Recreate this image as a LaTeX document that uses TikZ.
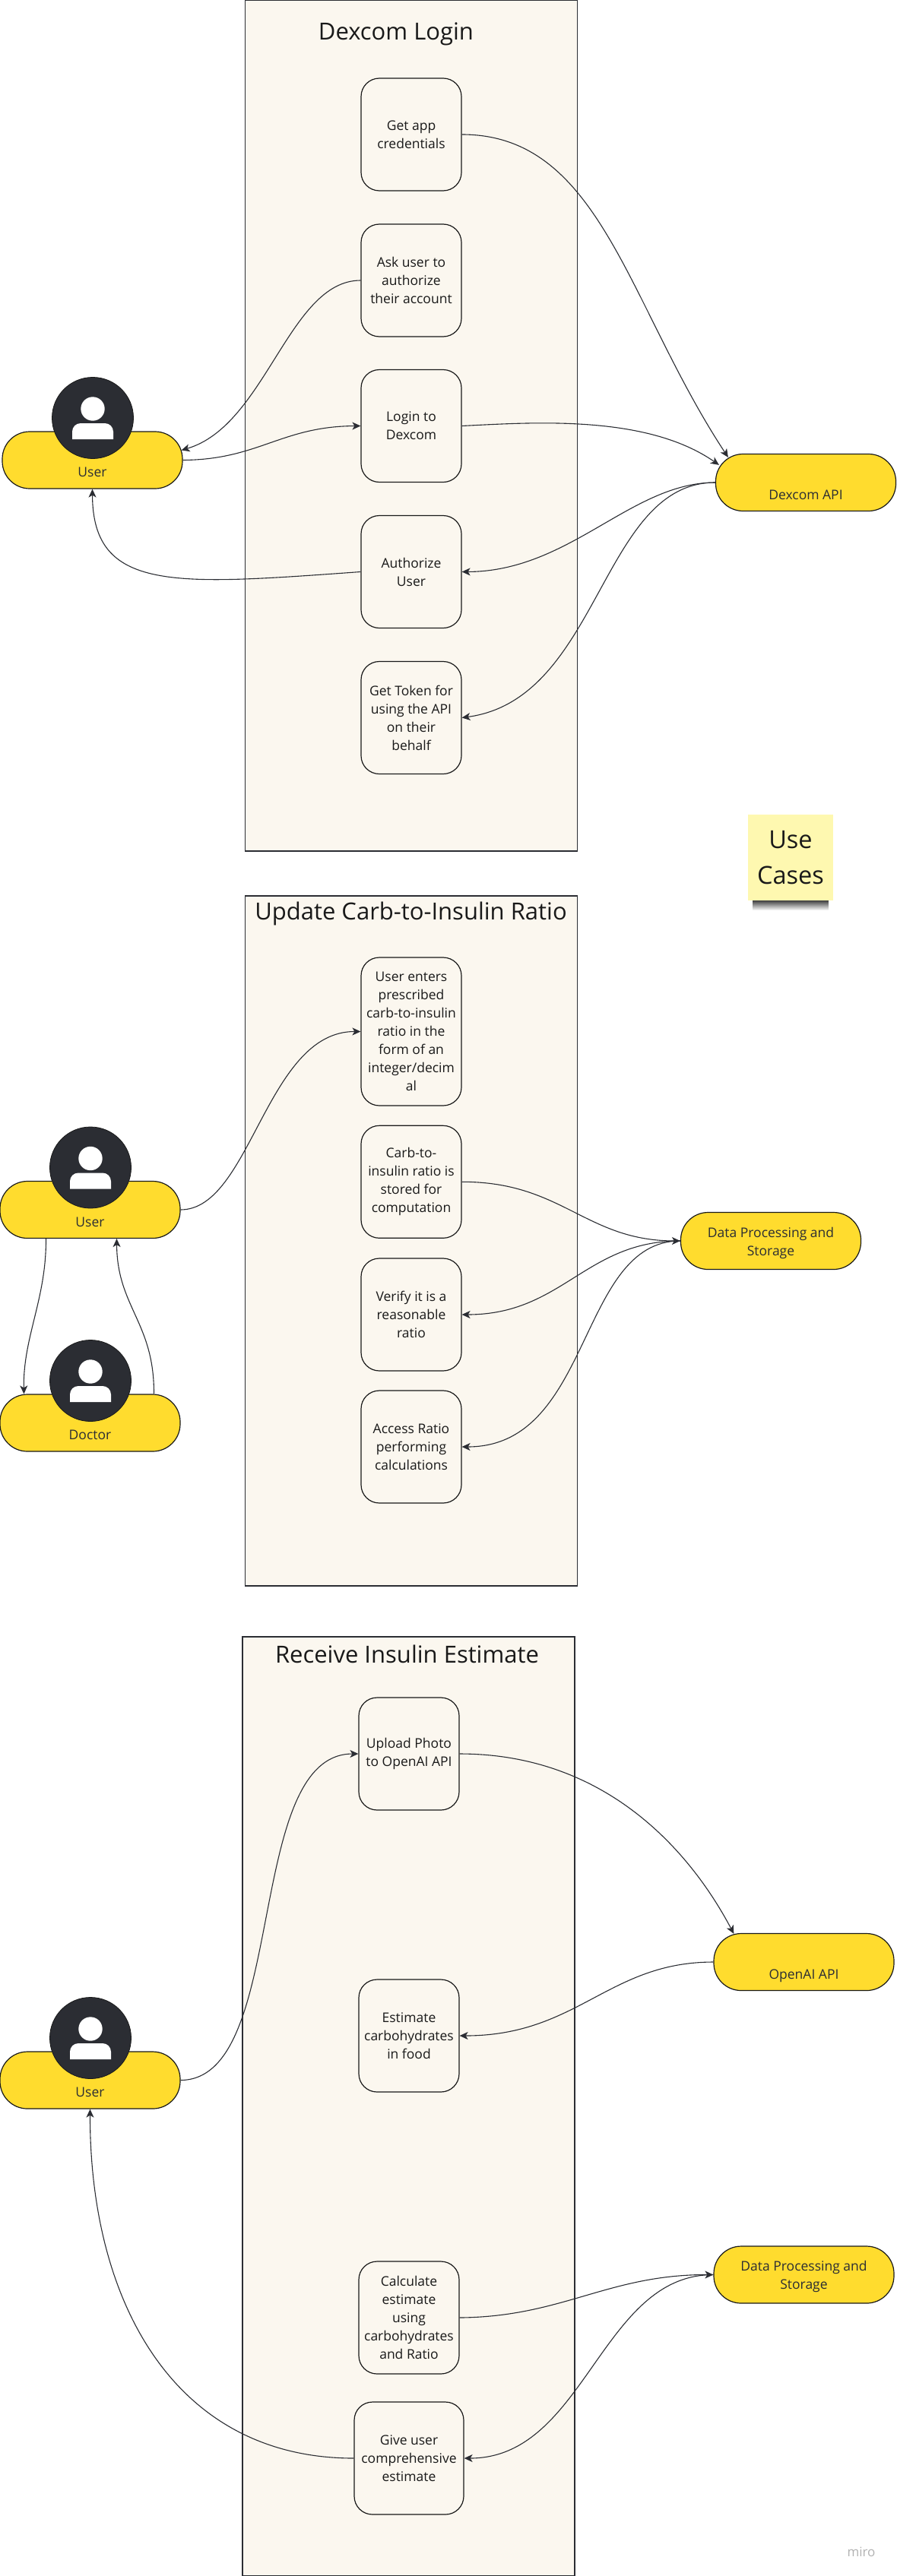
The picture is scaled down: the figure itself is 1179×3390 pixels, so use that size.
\documentclass[tikz,border=0pt]{standalone}
\usepackage{fontspec}
\setmainfont{Open Sans}
\usepackage{xcolor}
\usetikzlibrary{arrows.meta,fadings}

\definecolor{inkc}{HTML}{2B2D33}
\definecolor{panelc}{HTML}{FBF7EF}
\definecolor{pillc}{HTML}{FFDC2E}
\definecolor{stickyc}{HTML}{FEF8B0}

% round dark badge with the person inside it
\newcommand{\usericon}[2]{%
    \node[avatar] (#1) at (#2) {};
    \fill[white] ([yshift=12pt]#1.center) circle (15.7pt);
    \fill[white] ([shift={(-27pt,-28pt)}]#1.center)
        [rounded corners=11pt] -- ([shift={(-27pt,-7pt)}]#1.center)
        -- ([shift={(27pt,-7pt)}]#1.center)
        [sharp corners] -- ([shift={(27pt,-28pt)}]#1.center) -- cycle;
}

\begin{document}
\begin{tikzpicture}[
    x=1pt, y=-1pt,
    panel/.style={rectangle, draw=inkc, fill=panelc, line width=1.2pt, minimum width=437pt},
    heading/.style={font=\fontsize{31}{38}\selectfont, text=black!90},
    stepbox/.style={rectangle, draw=black!90, fill=panelc, line width=1.2pt, rounded corners=24pt,
        minimum width=132pt, minimum height=148pt, inner sep=1pt, align=center,
        font=\fontsize{17.5}{24}\selectfont, text=black!90},
    pill/.style={rectangle, draw=black!90, fill=pillc, line width=1.2pt, rounded corners=36pt,
        minimum width=237pt, minimum height=75pt, inner sep=0pt, align=center,
        font=\fontsize{17.5}{24}\selectfont, text=inkc},
    lowpill/.style={pill, text height=44pt, text depth=0pt},
    avatar/.style={circle, draw=black!90, fill=inkc, line width=.8pt, minimum size=107pt, inner sep=0pt},
    sticky/.style={rectangle, fill=stickyc, minimum width=112pt, minimum height=113pt, align=center,
        font=\fontsize{32.5}{47}\selectfont, text=black!90},
    arrow/.style={->, line width=1.1pt, draw=inkc, >={Stealth[length=11pt, width=10pt, inset=3pt]}}
]
    \useasboundingbox (0,0) rectangle (1179,3390);

    % Dexcom Login
    \node[panel, minimum height=1120pt] (loginpanel) at (541,560) {};
    \node[heading] (logintitle) at (521,45) {Dexcom Login};
    \node[stepbox] (credentials) at (541,177) {Get app\\credentials};
    \node[stepbox] (askuser) at (541,369) {Ask user to\\authorize\\their account};
    \node[stepbox] (login) at (541,560.5) {Login to\\Dexcom};
    \node[stepbox] (authorize) at (541,752.5) {Authorize\\User};
    \node[stepbox] (token) at (541,944.5) {Get Token for\\using the API\\on their\\behalf};
    \node[lowpill, minimum width=237pt] (loginuser) at (121.5,605.5) {User};
    \usericon{loginface}{122,550}
    \node[lowpill] (dexcom) at (1060,635) {Dexcom API};

    \draw[arrow] (credentials.east) .. controls (790,177) and (825,400) .. ([shift={(17pt,-5pt)}]dexcom.north west);
    \draw[arrow] (askuser.west) .. controls (380,369) and (350,560) .. ([shift={(-2pt,13pt)}]loginuser.east);
    \draw[arrow] (loginuser.east) .. controls (340,605) and (370,561) .. (login.west);
    \draw[arrow] (login.east) .. controls (700,556) and (850,545) .. ([shift={(5pt,-15pt)}]dexcom.north west);
    \draw[arrow] (dexcom.west) .. controls (830,635) and (750,752) .. (authorize.east);
    \draw[arrow] (dexcom.west) .. controls (790,635) and (790,920) .. (token.east);
    \draw[arrow] (authorize.west) .. controls (230,770) and (122,780) .. (loginuser.south);

    % Sticky note
    \fill[black!75, path fading=south] (990,1185) rectangle (1090,1198);
    \node[sticky] (usecases) at (1040,1128.5) {Use\\Cases};

    % Update Carb-to-Insulin Ratio
    \node[panel, minimum height=908pt] (ratiopanel) at (541,1633) {};
    \node[heading] (ratiotitle) at (540.5,1202) {Update Carb-to-Insulin Ratio};
    \node[stepbox, minimum height=195pt] (enter) at (541,1357.5) {User enters\\prescribed\\carb-to-insulin\\ratio in the\\form of an\\integer/decim\\al};
    \node[stepbox] (stored) at (541,1555.3) {Carb-to-\\insulin ratio is\\stored for\\computation};
    \node[stepbox] (verify) at (541,1730) {Verify it is a\\reasonable\\ratio};
    \node[stepbox] (access) at (541,1904) {Access Ratio\\performing\\calculations};
    \node[lowpill] (ratiouser) at (118.5,1592) {User};
    \usericon{ratioface}{119,1536.5}
    \node[lowpill] (doctor) at (118.5,1872.5) {Doctor};
    \usericon{doctorface}{119,1817}
    \node[pill] (ratiodata) at (1014,1633) {\rule{0pt}{18.5pt}Data Processing and\\Storage};

    \draw[arrow] (ratiouser.east) .. controls (330,1592) and (350,1357) .. (enter.west);
    \draw[arrow] (stored.east) .. controls (740,1555) and (770,1633) .. (ratiodata.west);
    \draw[arrow] (ratiodata.west) .. controls (770,1633) and (740,1730) .. (verify.east);
    \draw[arrow] (ratiodata.west) .. controls (760,1633) and (780,1904) .. (access.east);
    \draw[arrow] ([xshift=-58pt]ratiouser.south) .. controls (61,1710) and (30,1760) .. ([xshift=-87pt]doctor.north);
    \draw[arrow] ([xshift=84pt]doctor.north) .. controls (203,1740) and (154,1720) .. ([xshift=35pt]ratiouser.south);

    % Receive Insulin Estimate
    \node[panel, minimum height=1236pt] (estimatepanel) at (537.5,2772) {};
    \node[heading] (estimatetitle) at (535.5,2176.5) {Receive Insulin Estimate};
    \node[stepbox] (upload) at (538,2308) {Upload Photo\\to OpenAI API};
    \node[stepbox] (carbs) at (538,2679) {Estimate\\carbohydrates\\in food};
    \node[stepbox] (calculate) at (538,3050) {Calculate\\estimate\\using\\carbohydrates\\and Ratio};
    \node[stepbox, minimum width=144pt] (give) at (538,3235) {Give user\\comprehensive\\estimate};
    \node[lowpill] (estimateuser) at (118.5,2737.5) {User};
    \usericon{estimateface}{119,2682}
    \node[lowpill] (openai) at (1057.5,2582) {OpenAI API};
    \node[pill] (estimatedata) at (1057.5,2993.5) {\rule{0pt}{18.5pt}Data Processing and\\Storage};

    \draw[arrow] (estimateuser.east) .. controls (380,2737) and (320,2308) .. (upload.west);
    \draw[arrow] (upload.east) .. controls (800,2308) and (910,2440) .. ([shift={(27pt,-1pt)}]openai.north west);
    \draw[arrow] (openai.west) .. controls (800,2582) and (760,2679) .. (carbs.east);
    \draw[arrow] (calculate.east) .. controls (740,3049) and (800,2993) .. (estimatedata.west);
    \draw[arrow] (estimatedata.west) .. controls (790,2993) and (770,3235) .. (give.east);
    \draw[arrow] (give.west) .. controls (230,3235) and (118,3030) .. (estimateuser.south);

    \node[text=black!30, font=\fontsize{17}{20}\selectfont] (mark) at (1133,3358) {miro};
\end{tikzpicture}
\end{document}
